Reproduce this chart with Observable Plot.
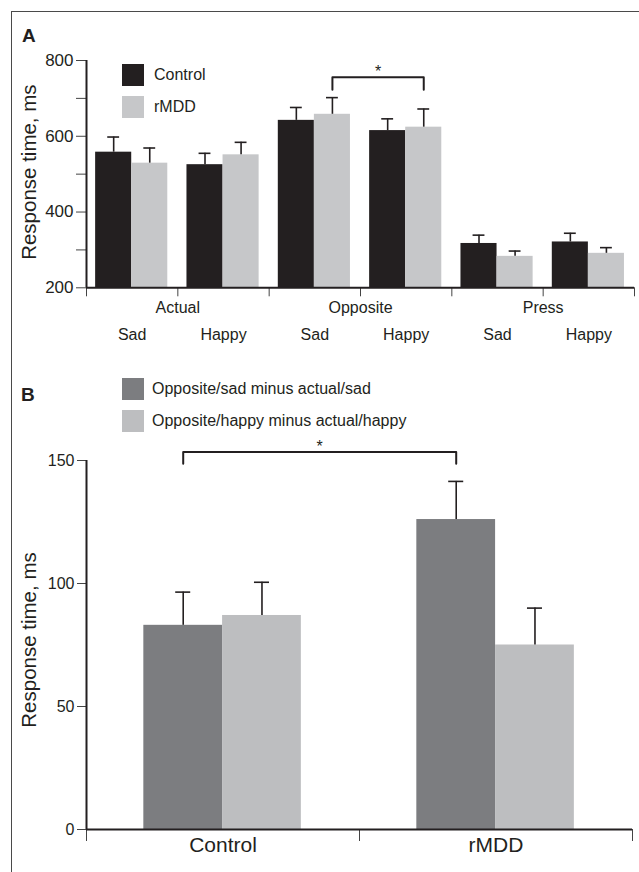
<!DOCTYPE html>
<html>
<head>
<meta charset="utf-8">
<script src="https://cdn.jsdelivr.net/npm/d3@7"></script>
<script src="https://cdn.jsdelivr.net/npm/@observablehq/plot@0.6"></script>
<style>
  body { margin: 0; background: #fff; }
  #fig { position: relative; width: 639px; height: 872px; overflow: hidden; background: #fff;
         font-family: "Liberation Sans", Arial, Helvetica, sans-serif; color: #231f20; }
  .panel { position: absolute; left: 0; }
  #frame { position: absolute; left: 11px; top: 11px; width: 700px; height: 900px;
           border: 1.5px solid #4a4a4a; pointer-events: none; }
  .plabel { position: absolute; font-weight: bold; font-size: 19px; line-height: 19px; }
  .item { position: absolute; display: flex; align-items: center; font-size: 16px; white-space: nowrap; }
  .sw { width: 22px; height: 22px; }
</style>
</head>
<body>
<div id="fig">
  <div id="panelA" class="panel" style="top:0px"></div>
  <div id="panelB" class="panel" style="top:350px"></div>
  <div id="legendA"></div>
  <div id="legendB"></div>
  <div class="plabel" style="left:22px;top:25.5px">A</div>
  <div class="plabel" style="left:21px;top:385px">B</div>
  <div id="frame"></div>
</div>
<script>
// ---------- Panel A data ----------
const conditions = ["Actual", "Opposite", "Press"];
const emotions = ["Sad", "Happy"];
const groupsA = ["Control", "rMDD"];
const colorsA = ["#231f20", "#c6c7c9"];
// order: Actual/Sad, Actual/Happy, Opposite/Sad, Opposite/Happy, Press/Sad, Press/Happy
const controlMean = [558, 525, 642, 615, 317, 321];
const controlSEM  = [40, 30, 34, 31, 22, 23];
const rmddMean    = [529, 551, 658, 624, 283, 291];
const rmddSEM     = [40, 33, 44, 48, 14, 15];
const yDomainA = [200, 800];
const yTicksA = [200, 300, 400, 500, 600, 700, 800];
const yTickLabelsA = [200, 400, 600, 800];
const yLabel = "Response time, ms";
const sigA = [{cond: "Opposite", from: "Sad", to: "Happy", group: "rMDD", text: "*"}];

// ---------- Panel B data ----------
const groupsB = ["Control", "rMDD"];
const seriesB = ["Opposite/sad minus actual/sad", "Opposite/happy minus actual/happy"];
const colorsB = ["#7c7d80", "#bdbec0"];
const sadDiff  = [83, 126];
const sadSEM   = [13.5, 15.5];
const happyDiff = [87, 75];
const happySEM  = [13.5, 15];
const yDomainB = [0, 150];
const yTicksB = [0, 50, 100, 150];
const sigB = [{series: seriesB[0], from: "Control", to: "rMDD", text: "*"}];

const FONT = '"Liberation Sans", Arial, Helvetica, sans-serif';
const INK = "#231f20";

// ---------- Build Panel A ----------
const cellsA = conditions.flatMap((c, ci) => emotions.map((e, ei) => ({cond: c, emo: e, idx: ci * emotions.length + ei})));
const barsA = cellsA.flatMap(cell => groupsA.map((g, gi) => ({
  ...cell, group: g, gi,
  mean: (gi === 0 ? controlMean : rmddMean)[cell.idx],
  sem:  (gi === 0 ? controlSEM : rmddSEM)[cell.idx]
})));
const padA = 0.1, bwA = 0.395, capA = 0.065;
const cxA = d => d.idx + padA + (d.gi + 0.5) * bwA;

const sigLinesA = sigA.flatMap(s => {
  const a = barsA.find(b => b.cond === s.cond && b.emo === s.from && b.group === s.group);
  const b = barsA.find(b => b.cond === s.cond && b.emo === s.to && b.group === s.group);
  const top = Math.max(a.mean + a.sem, b.mean + b.sem);
  return [
    {x: cxA(a), y: top + 21}, {x: cxA(a), y: top + 54},
    {x: cxA(b), y: top + 54}, {x: cxA(b), y: top + 21}
  ];
});
const sigTextA = sigA.map(s => {
  const a = barsA.find(b => b.cond === s.cond && b.emo === s.from && b.group === s.group);
  const b = barsA.find(b => b.cond === s.cond && b.emo === s.to && b.group === s.group);
  const top = Math.max(a.mean + a.sem, b.mean + b.sem);
  return {x: (cxA(a) + cxA(b)) / 2, y: top + 54, text: s.text};
});

const plotA = Plot.plot({
  width: 639, height: 350,
  marginLeft: 86, marginRight: 5, marginTop: 60, marginBottom: 62.7,
  style: {fontFamily: FONT, fontSize: "16px", color: INK, background: "transparent", overflow: "visible"},
  x: {type: "linear", domain: [0, cellsA.length]},
  y: {domain: yDomainA},
  color: {domain: groupsA, range: colorsA},
  marks: [
    Plot.rectY(barsA, {x1: d => d.idx + padA + d.gi * bwA, x2: d => d.idx + padA + (d.gi + 1) * bwA,
                       y1: yDomainA[0], y2: "mean", fill: "group"}),
    Plot.ruleX(barsA, {x: cxA, y1: "mean", y2: d => d.mean + d.sem, stroke: INK, strokeWidth: 1.6}),
    Plot.ruleY(barsA, {y: d => d.mean + d.sem, x1: d => cxA(d) - capA, x2: d => cxA(d) + capA, stroke: INK, strokeWidth: 1.6}),
    Plot.axisY({ticks: yTicksA, tickSize: 10, tickPadding: 3, stroke: "#444",
                tickFormat: d => yTickLabelsA.includes(d) ? String(d) : "", fontSize: 17, label: null}),
    Plot.axisX({ticks: d3.range(0, cellsA.length + 1), tickSize: 9, stroke: "#444", tickFormat: () => "", label: null}),
    Plot.ruleX([0], {stroke: INK, strokeWidth: 2}),
    Plot.ruleY([yDomainA[0]], {stroke: INK, strokeWidth: 2}),
    Plot.text(conditions, {x: (d, i) => i * emotions.length + emotions.length / 2, text: d => d,
                           frameAnchor: "bottom", dy: 25, fontSize: 16, fill: INK}),
    Plot.text(cellsA, {x: d => d.idx + 0.5, text: "emo", frameAnchor: "bottom", dy: 52, fontSize: 16, fill: INK}),
    Plot.text([yLabel], {text: d => d, frameAnchor: "left", textAnchor: "middle", lineAnchor: "middle",
                         rotate: -90, dx: -57, dy: -2, fontSize: 20.5, fill: INK}),
    Plot.line(sigLinesA, {x: "x", y: "y", stroke: INK, strokeWidth: 2}),
    Plot.text(sigTextA, {x: "x", y: "y", text: "text", dy: -5, fontSize: 16, fill: INK})
  ]
});
document.getElementById("panelA").appendChild(plotA);

// ---------- Build Panel B ----------
const barsB = groupsB.flatMap((g, gi) => seriesB.map((s, si) => ({
  group: g, gi, series: s, si,
  mean: (si === 0 ? sadDiff : happyDiff)[gi],
  sem:  (si === 0 ? sadSEM : happySEM)[gi]
})));
const padB = 0.21, bwB = 0.2885, capB = 0.0275;
const cxB = d => d.gi + padB + (d.si + 0.5) * bwB;

const sigLinesB = sigB.flatMap(s => {
  const a = barsB.find(b => b.series === s.series && b.group === s.from);
  const b = barsB.find(b => b.series === s.series && b.group === s.to);
  const top = Math.max(a.mean + a.sem, b.mean + b.sem);
  return [
    {x: cxB(a), y: top + 7.2}, {x: cxB(a), y: top + 12},
    {x: cxB(b), y: top + 12}, {x: cxB(b), y: top + 7.2}
  ];
});
const sigTextB = sigB.map(s => {
  const a = barsB.find(b => b.series === s.series && b.group === s.from);
  const b = barsB.find(b => b.series === s.series && b.group === s.to);
  const top = Math.max(a.mean + a.sem, b.mean + b.sem);
  return {x: (cxB(a) + cxB(b)) / 2, y: top + 12, text: s.text};
});

const plotB = Plot.plot({
  width: 639, height: 522,
  marginLeft: 86, marginRight: 7, marginTop: 110, marginBottom: 43,
  style: {fontFamily: FONT, fontSize: "16px", color: INK, background: "transparent", overflow: "visible"},
  x: {type: "linear", domain: [0, groupsB.length]},
  y: {domain: yDomainB},
  color: {domain: seriesB, range: colorsB},
  marks: [
    Plot.rectY(barsB, {x1: d => d.gi + padB + d.si * bwB, x2: d => d.gi + padB + (d.si + 1) * bwB,
                       y1: yDomainB[0], y2: "mean", fill: "series"}),
    Plot.ruleX(barsB, {x: cxB, y1: "mean", y2: d => d.mean + d.sem, stroke: INK, strokeWidth: 1.6}),
    Plot.ruleY(barsB, {y: d => d.mean + d.sem, x1: d => cxB(d) - capB, x2: d => cxB(d) + capB, stroke: INK, strokeWidth: 1.6}),
    Plot.axisY({ticks: yTicksB, tickSize: 9, tickPadding: 3, stroke: "#444", fontSize: 16, label: null}),
    Plot.axisX({ticks: d3.range(0, groupsB.length + 1), tickSize: 12, stroke: "#444", tickFormat: () => "", label: null}),
    Plot.ruleX([0], {stroke: INK, strokeWidth: 2}),
    Plot.ruleY([yDomainB[0]], {stroke: INK, strokeWidth: 2}),
    Plot.text(groupsB, {x: (d, i) => i + 0.5, text: d => d, frameAnchor: "bottom", dy: 22.7, fontSize: 21, fill: INK}),
    Plot.text([yLabel], {text: d => d, frameAnchor: "left", textAnchor: "middle", lineAnchor: "middle",
                         rotate: -90, dx: -57, dy: -5, fontSize: 20.5, fill: INK}),
    Plot.line(sigLinesB, {x: "x", y: "y", stroke: INK, strokeWidth: 2}),
    Plot.text(sigTextB, {x: "x", y: "y", text: "text", dy: -5, fontSize: 16, fill: INK})
  ]
});
document.getElementById("panelB").appendChild(plotB);

// ---------- Legends (HTML) ----------
function legend(containerId, labels, colors, left, tops, gap) {
  const c = document.getElementById(containerId);
  labels.forEach((lab, i) => {
    const item = document.createElement("div");
    item.className = "item";
    item.style.left = left + "px";
    item.style.top = tops[i] + "px";
    const sw = document.createElement("div");
    sw.className = "sw";
    sw.style.background = colors[i];
    sw.style.marginRight = gap + "px";
    const t = document.createElement("span");
    t.textContent = lab;
    item.appendChild(sw);
    item.appendChild(t);
    c.appendChild(item);
  });
}
legend("legendA", groupsA, colorsA, 122, [63.5, 95.5], 10);
legend("legendB", seriesB, colorsB, 122, [377.5, 409.5], 8);
</script>
</body>
</html>
